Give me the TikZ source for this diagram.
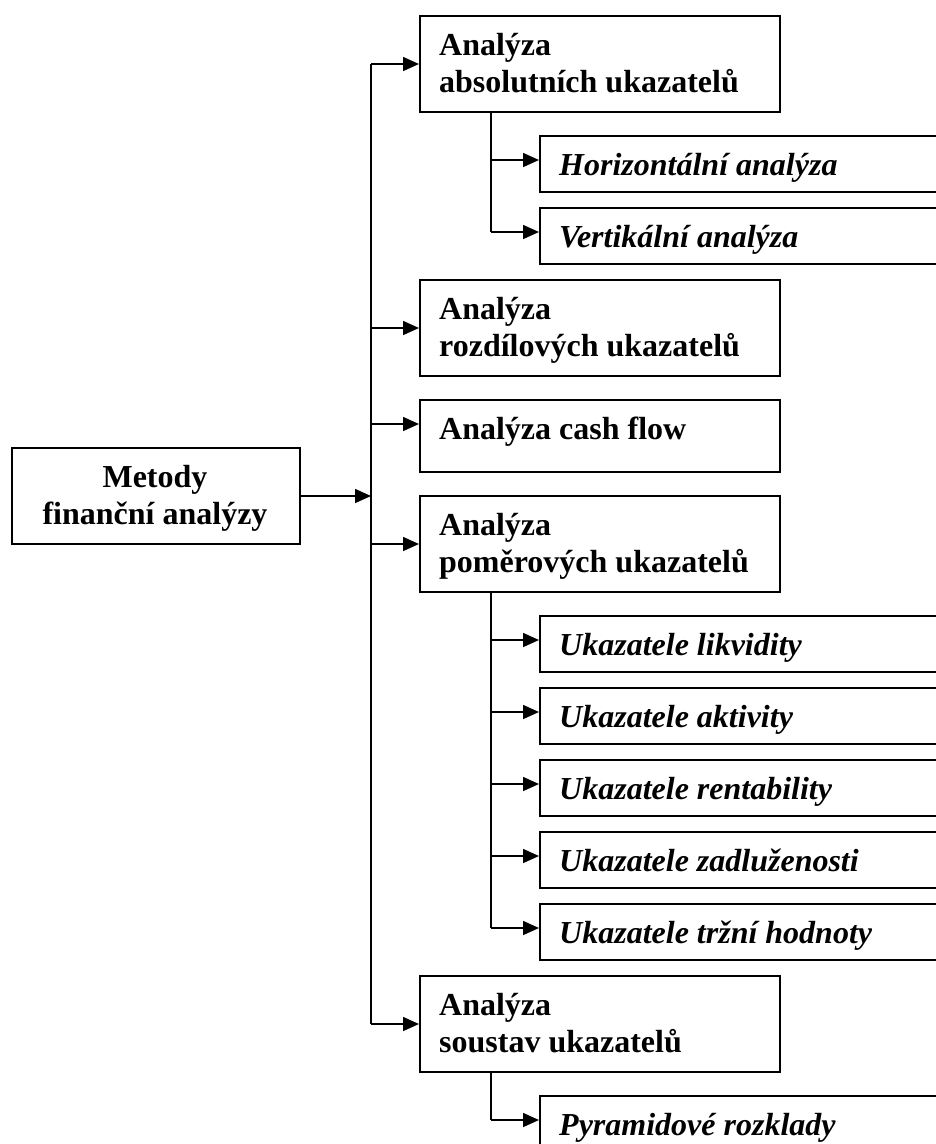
\documentclass[tikz,border=0pt]{standalone}
\usepackage{fontspec}
\setmainfont{Liberation Serif}
\usetikzlibrary{arrows.meta}
\begin{document}
\begin{tikzpicture}[x=1pt,y=-1pt,
  bigbox/.style={draw,line width=2pt,anchor=north west,inner sep=0pt,minimum width=360pt,minimum height=96pt},
  subbox/.style={draw,line width=2pt,anchor=north west,inner sep=0pt,minimum width=440pt,minimum height=56pt},
  btxt/.style={anchor=base west,inner sep=0pt,font=\bfseries\fontsize{32}{37}\selectfont},
  itxt/.style={anchor=base west,inner sep=0pt,font=\bfseries\itshape\fontsize{32}{37}\selectfont},
  ctxt/.style={anchor=base,inner sep=0pt,font=\bfseries\fontsize{32}{37}\selectfont},
  ln/.style={line width=1.6pt},
  arr/.style={line width=1.6pt,-{Triangle[length=16pt,width=14pt]}}]
\clip (0,0) rectangle (936,1144);
\fill[white] (0,0) rectangle (936,1144);
% trunk coordinates
\coordinate (trunk) at (371,0);
\coordinate (sx) at (491,0);
% main box
\node[draw,line width=2pt,anchor=north west,inner sep=0pt,minimum width=288pt,minimum height=96pt] (m) at (11,447) {};
\node[ctxt] (m1) at (155,487) {Metody};
\node[ctxt] (m2) at (155,524) {finanční analýzy};
% level 1 boxes
\node[bigbox] (a) at (419,15) {};
\node[btxt] (a1) at (439,55) {Analýza};
\node[btxt] (a2) at (439,92) {absolutních ukazatelů};
\node[bigbox] (r) at (419,279) {};
\node[btxt] (r1) at (439,319) {Analýza};
\node[btxt] (r2) at (439,356) {rozdílových ukazatelů};
\node[bigbox,minimum height=72pt] (c) at (419,399) {};
\node[btxt] (c1) at (439,439) {Analýza cash flow};
\node[bigbox] (p) at (419,495) {};
\node[btxt] (p1) at (439,535) {Analýza};
\node[btxt] (p2) at (439,572) {poměrových ukazatelů};
\node[bigbox] (s) at (419,975) {};
\node[btxt] (s1) at (439,1015) {Analýza};
\node[btxt] (s2) at (439,1052) {soustav ukazatelů};
% sub boxes
\node[subbox] (h) at (539,135) {};
\node[itxt] (h1) at (559,175) {Horizontální analýza};
\node[subbox] (v) at (539,207) {};
\node[itxt] (v1) at (559,247) {Vertikální analýza};
\node[subbox] (u1) at (539,615) {};
\node[itxt] (u1t) at (559,655) {Ukazatele likvidity};
\node[subbox] (u2) at (539,687) {};
\node[itxt] (u2t) at (559,727) {Ukazatele aktivity};
\node[subbox] (u3) at (539,759) {};
\node[itxt] (u3t) at (559,799) {Ukazatele rentability};
\node[subbox] (u4) at (539,831) {};
\node[itxt] (u4t) at (559,871) {Ukazatele zadluženosti};
\node[subbox] (u5) at (539,903) {};
\node[itxt] (u5t) at (559,943) {Ukazatele tržní hodnoty};
\node[subbox] (py) at (539,1095) {};
\node[itxt] (pyt) at (559,1135) {Pyramidové rozklady};
% main trunk
\draw[ln] (a.west -| trunk) -- (s.west -| trunk);
\draw[arr] (m.east) -- (m.east -| trunk);
\draw[arr] (a.west -| trunk) -- (a.west);
\draw[arr] (r.west -| trunk) -- (r.west);
\draw[arr] ([yshift=12pt]c.west -| trunk) -- ([yshift=12pt]c.west);
\draw[arr] (p.west -| trunk) -- (p.west);
\draw[arr] (s.west -| trunk) -- (s.west);
% sub trunks
\draw[ln] (a.south -| sx) -- ([yshift=4pt]v.west -| sx);
\draw[arr] ([yshift=4pt]h.west -| sx) -- ([yshift=4pt]h.west);
\draw[arr] ([yshift=4pt]v.west -| sx) -- ([yshift=4pt]v.west);
\draw[ln] (p.south -| sx) -- ([yshift=4pt]u5.west -| sx);
\foreach \b in {u1,u2,u3,u4,u5}
  \draw[arr] ([yshift=4pt]\b.west -| sx) -- ([yshift=4pt]\b.west);
\draw[ln] (s.south -| sx) -- ([yshift=4pt]py.west -| sx);
\draw[arr] ([yshift=4pt]py.west -| sx) -- ([yshift=4pt]py.west);
\end{tikzpicture}
\end{document}
